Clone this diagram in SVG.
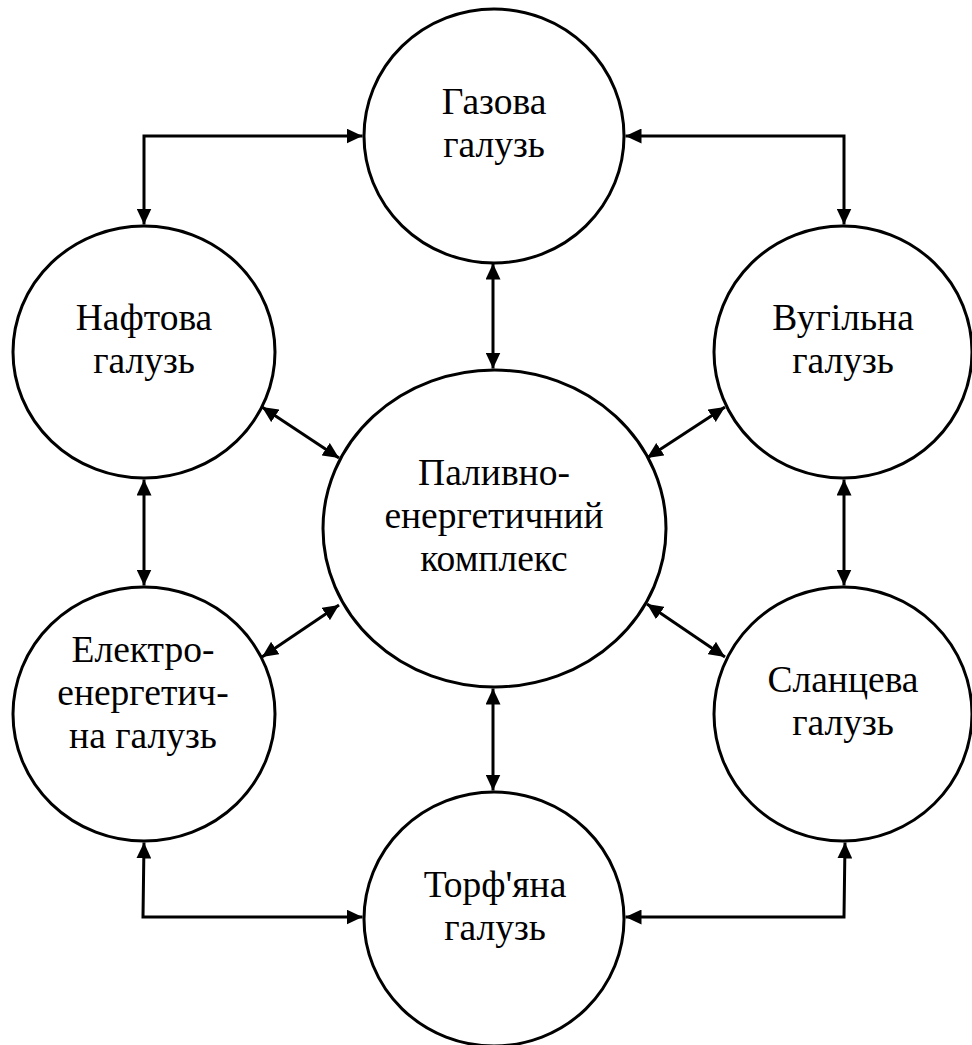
<svg xmlns="http://www.w3.org/2000/svg" width="972" height="1045" viewBox="0 0 972 1045">
<style>
.node{fill:#fff;stroke:#000;stroke-width:3}
.lbl{font-family:"Liberation Serif","Times New Roman",serif;font-size:37.5px;fill:#000;text-anchor:middle}
.con{fill:none;stroke:#000;stroke-width:3;marker-start:url(#ah);marker-end:url(#ah)}
</style>
<defs>
<marker id="ah" markerUnits="userSpaceOnUse" markerWidth="16" markerHeight="15" refX="16" refY="7.5" orient="auto-start-reverse">
<path d="M0,0 L16,7.5 L0,15 z" fill="#000"/>
</marker>
</defs>
<rect width="972" height="1045" fill="#fff"/>
<g id="connectors">
<path class="con" d="M144,224.5 V136 H362.5"/>
<path class="con" d="M625.5,136 H844 V224.5"/>
<path class="con" d="M493,263.5 V368.5"/>
<path class="con" d="M262,407 L339,458"/>
<path class="con" d="M725,407 L647,458"/>
<path class="con" d="M262,657 L339,605"/>
<path class="con" d="M647,604 L725,657"/>
<path class="con" d="M144,479.5 V585.5"/>
<path class="con" d="M844,479.5 V585.5"/>
<path class="con" d="M493,688.5 V790.5"/>
<path class="con" d="M144,842.5 L143,917 H362.5"/>
<path class="con" d="M625.5,917 H844 L845,842.5"/>
</g>
<g id="gas">
<ellipse class="node" cx="494" cy="136" rx="130" ry="127"/>
<text class="lbl" font-family="Liberation Serif" x="494" y="114">Газова</text>
<text class="lbl" font-family="Liberation Serif" x="494" y="157">галузь</text>
</g>
<g id="oil">
<ellipse class="node" cx="144" cy="352" rx="131" ry="126"/>
<text class="lbl" font-family="Liberation Serif" x="144" y="330">Нафтова</text>
<text class="lbl" font-family="Liberation Serif" x="144" y="373">галузь</text>
</g>
<g id="coal">
<ellipse class="node" cx="843" cy="352" rx="129" ry="126"/>
<text class="lbl" font-family="Liberation Serif" x="843" y="330">Вугільна</text>
<text class="lbl" font-family="Liberation Serif" x="843" y="373">галузь</text>
</g>
<g id="center">
<ellipse class="node" cx="494.5" cy="528.5" rx="171.5" ry="158.5"/>
<text class="lbl" font-family="Liberation Serif" x="494" y="485">Паливно-</text>
<text class="lbl" font-family="Liberation Serif" x="494" y="528">енергетичний</text>
<text class="lbl" font-family="Liberation Serif" x="494" y="571">комплекс</text>
</g>
<g id="electro">
<ellipse class="node" cx="144" cy="714" rx="131" ry="127"/>
<text class="lbl" font-family="Liberation Serif" x="143" y="662">Електро-</text>
<text class="lbl" font-family="Liberation Serif" x="143" y="705">енергетич-</text>
<text class="lbl" font-family="Liberation Serif" x="143" y="748">на галузь</text>
</g>
<g id="shale">
<ellipse class="node" cx="843" cy="714" rx="129" ry="127"/>
<text class="lbl" font-family="Liberation Serif" x="843" y="692">Сланцева</text>
<text class="lbl" font-family="Liberation Serif" x="843" y="735">галузь</text>
</g>
<g id="peat">
<ellipse class="node" cx="494" cy="919" rx="130" ry="127"/>
<text class="lbl" font-family="Liberation Serif" x="495" y="897">Торф'яна</text>
<text class="lbl" font-family="Liberation Serif" x="495" y="940">галузь</text>
</g>
</svg>
